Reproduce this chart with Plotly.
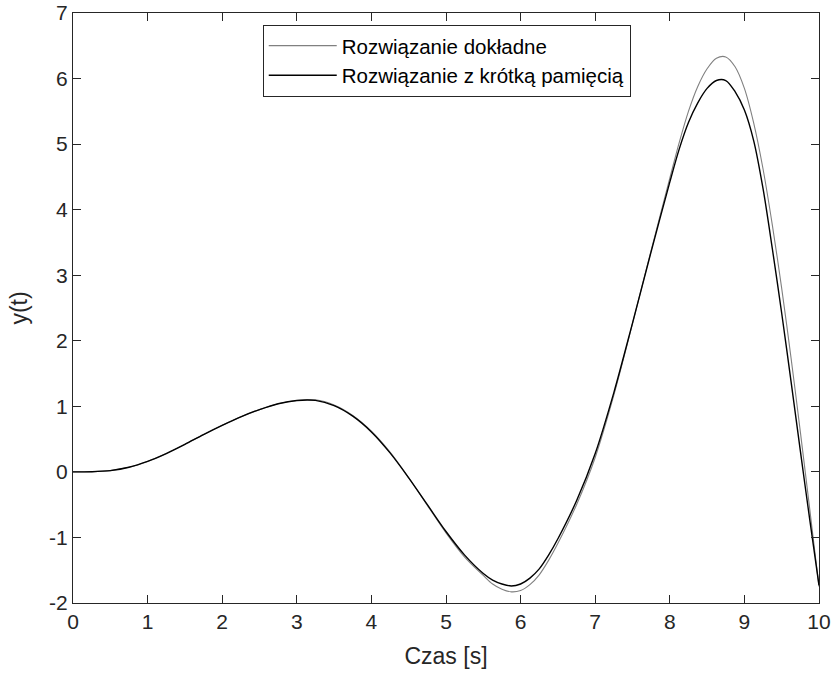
import plotly.graph_objects as go

t = [0, 0.25, 0.5, 0.75, 1.0, 1.25, 1.5, 1.75, 2.0, 2.25, 2.5, 2.75, 3.0, 3.25, 3.5,
     3.75, 4.0, 4.25, 4.5, 4.75, 5.0, 5.25, 5.5, 5.625, 5.75, 5.875, 6.0, 6.125, 6.25,
     6.375, 6.5, 6.75, 7.0, 7.25, 7.5, 7.75, 8.0, 8.125, 8.25, 8.375, 8.5, 8.625, 8.75,
     8.875, 9.0, 9.125, 9.25, 9.375, 9.5, 9.625, 9.75, 9.875, 10.0]

y_exact = [0, 0.003, 0.02, 0.07, 0.16, 0.28, 0.42, 0.57, 0.71, 0.84, 0.95, 1.04, 1.09,
           1.10, 1.02, 0.86, 0.62, 0.30, -0.09, -0.51, -0.93, -1.30, -1.58, -1.71, -1.79,
           -1.83, -1.81, -1.72, -1.57, -1.35, -1.09, -0.50, 0.22, 1.17, 2.26, 3.38, 4.48,
           5.02, 5.50, 5.88, 6.15, 6.31, 6.33, 6.18, 5.85, 5.32, 4.62, 3.76, 2.80, 1.74,
           0.61, -0.56, -1.75]

y_short = [0, 0.003, 0.02, 0.07, 0.16, 0.28, 0.42, 0.57, 0.71, 0.84, 0.95, 1.04, 1.09,
           1.09, 1.01, 0.85, 0.61, 0.29, -0.09, -0.50, -0.91, -1.27, -1.55, -1.65, -1.71,
           -1.74, -1.71, -1.62, -1.48, -1.27, -1.02, -0.44, 0.28, 1.21, 2.27, 3.36, 4.42,
           4.92, 5.33, 5.63, 5.85, 5.97, 5.97, 5.80, 5.52, 5.05, 4.32, 3.40, 2.42, 1.38,
           0.32, -0.72, -1.73]

x_ticks = list(range(0, 11))
y_ticks = list(range(-2, 8))

font_family = "Liberation Sans, Arial, Helvetica, sans-serif"
axis_col = "#262626"

fig = go.Figure()
fig.add_trace(go.Scatter(x=t, y=y_exact, mode="lines", name="Rozwiązanie dokładne",
                         line=dict(color="#808080", width=1.1, shape="spline", smoothing=0.9)))
fig.add_trace(go.Scatter(x=t, y=y_short, mode="lines", name="Rozwiązanie z krótką pamięcią",
                         line=dict(color="#000000", width=1.4, shape="spline", smoothing=0.9)))

axis_common = dict(showgrid=False, zeroline=False, showline=True, linecolor=axis_col,
                   linewidth=1, mirror="ticks", ticks="inside", ticklen=8, tickwidth=1,
                   tickcolor=axis_col, automargin=False,
                   tickfont=dict(family=font_family, size=21, color=axis_col))

fig.update_layout(
    width=833, height=677,
    margin=dict(l=73, r=14, t=13, b=74),
    paper_bgcolor="white", plot_bgcolor="white",
    font=dict(family=font_family, color=axis_col),
    xaxis=dict(range=[0, 10], tickvals=x_ticks, ticktext=[str(v) for v in x_ticks],
               title=dict(text="Czas [s]", font=dict(size=23, color=axis_col)),
               **axis_common),
    yaxis=dict(range=[-2, 7], tickvals=y_ticks, ticktext=[str(v) for v in y_ticks],
               title=dict(text="y(t)", font=dict(size=23, color=axis_col)),
               **axis_common),
    legend=dict(x=0.501, y=0.98, xanchor="center", yanchor="top",
                bgcolor="white", bordercolor=axis_col, borderwidth=1,
                font=dict(family=font_family, size=20.5, color="#000000"),
                tracegroupgap=0, itemwidth=68),
    showlegend=True,
)

fig.write_html("out.html")
